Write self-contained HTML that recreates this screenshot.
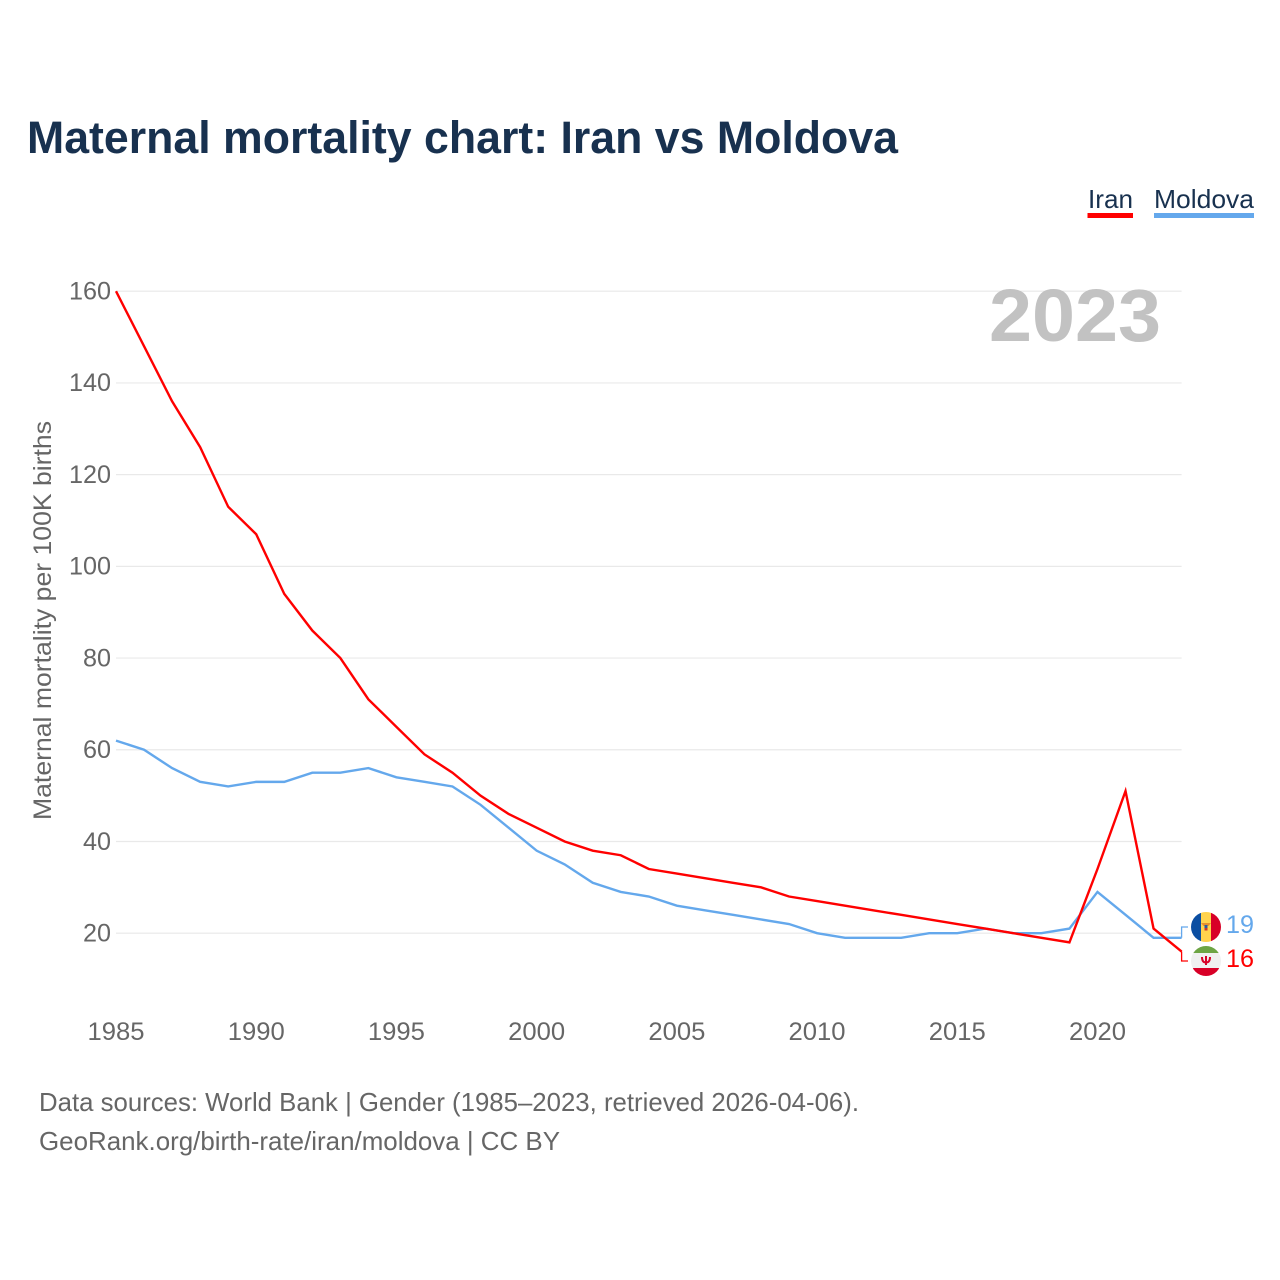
<!DOCTYPE html>
<html lang="en">
<head>
<meta charset="utf-8">
<title>Maternal mortality chart: Iran vs Moldova</title>
<style>
html,body{margin:0;padding:0;background:#fff;width:1280px;height:1280px;overflow:hidden}
svg{display:block;font-family:"Liberation Sans",sans-serif}
</style>
</head>
<body>
<svg id="chart" width="1280" height="1280" viewBox="0 0 1280 1280" xmlns="http://www.w3.org/2000/svg">
  <rect width="1280" height="1280" fill="#fff"/>
  <text x="27" y="153" font-size="45" font-weight="700" fill="#18314f" textLength="871" lengthAdjust="spacingAndGlyphs">Maternal mortality chart: Iran vs Moldova</text>

  <g>
    <text x="1088" y="208" font-size="26" fill="#18314f" textLength="45" lengthAdjust="spacingAndGlyphs">Iran</text>
    <rect x="1087.500" y="213" width="45.500" height="5" fill="#ff0000"/>
  </g>
  <g>
    <text x="1154" y="208" font-size="26" fill="#18314f" textLength="100" lengthAdjust="spacingAndGlyphs">Moldova</text>
    <rect x="1154" y="213" width="100" height="5" fill="#64a8ec"/>
  </g>

  <g id="grid"></g>
  <g id="y-axis"></g>
  <g id="x-axis"></g>

  <text transform="translate(51,820) rotate(-90)" font-size="25" fill="#666" textLength="399" lengthAdjust="spacingAndGlyphs">Maternal mortality per 100K births</text>
  <text x="1161" y="341" text-anchor="end" font-size="74" font-weight="700" fill="#c2c2c2" textLength="172" lengthAdjust="spacingAndGlyphs">2023</text>

  <g id="series"></g>

  <defs>
    <clipPath id="clip-md"><circle cx="1206" cy="927" r="15"/></clipPath>
    <clipPath id="clip-ir"><circle cx="1206" cy="961" r="15"/></clipPath>
  </defs>
  <g clip-path="url(#clip-md)">
    <rect x="1191" y="912" width="10" height="30" fill="#0b4ea2"/>
    <rect x="1201" y="912" width="10" height="30" fill="#ffd34d"/>
    <rect x="1211" y="912" width="10" height="30" fill="#d80027"/>
    <path d="M1201 923h10l-2.500 3h-5z" fill="#e8912d"/>
    <rect x="1204.500" y="925" width="3" height="4" fill="#2d5aa0"/>
    <rect x="1204.500" y="928" width="3" height="2.500" fill="#c8352f"/>
  </g>
  <g clip-path="url(#clip-ir)">
    <rect x="1191" y="946" width="30" height="7" fill="#6da544"/>
    <rect x="1191" y="953" width="30" height="15" fill="#f0f0f0"/>
    <rect x="1191" y="968" width="30" height="9" fill="#d80027"/>
    <path d="M1202 957q0 5.500 4 5.500t4-5.500M1206 956v9" fill="none" stroke="#d80027" stroke-width="2"/>
  </g>

  <text id="label-md" x="1226" y="933" font-size="25" fill="#64a8ec" textLength="28" lengthAdjust="spacingAndGlyphs"></text>
  <text id="label-ir" x="1226" y="967" font-size="25" fill="#ff0000" textLength="28" lengthAdjust="spacingAndGlyphs"></text>

  <text x="39" y="1111" font-size="26" fill="#666" textLength="820" lengthAdjust="spacingAndGlyphs">Data sources: World Bank | Gender (1985–2023, retrieved 2026-04-06).</text>
  <text x="39" y="1150" font-size="26" fill="#666" textLength="521" lengthAdjust="spacingAndGlyphs">GeoRank.org/birth-rate/iran/moldova | CC BY</text>
</svg>
<script>
const years = [1985,1986,1987,1988,1989,1990,1991,1992,1993,1994,1995,1996,1997,1998,1999,2000,2001,2002,2003,2004,2005,2006,2007,2008,2009,2010,2011,2012,2013,2014,2015,2016,2017,2018,2019,2020,2021,2022,2023];
const iranValues = [160,148,136,126,113,107,94,86,80,71,65,59,55,50,46,43,40,38,37,34,33,32,31,30,28,27,26,25,24,23,22,21,20,19,18,34,51,21,16];
const moldovaValues = [62,60,56,53,52,53,53,55,55,56,54,53,52,48,43,38,35,31,29,28,26,25,24,23,22,20,19,19,19,20,20,21,20,20,21,29,24,19,19];
const yTicks = [20,40,60,80,100,120,140,160];
const xTicks = [1985,1990,1995,2000,2005,2010,2015,2020];

const NS = 'http://www.w3.org/2000/svg';
const xScale = function (year) { return 116 + (year - 1985) * (1181.6 - 116) / (2023 - 1985); };
const yScale = function (value) { return 933.2 - (value - 20) * (933.2 - 291.2) / (160 - 20); };

const grid = document.getElementById('grid');
const yAxis = document.getElementById('y-axis');
const xAxis = document.getElementById('x-axis');
const seriesGroup = document.getElementById('series');

yTicks.forEach(function (tick) {
  const line = document.createElementNS(NS, 'line');
  
  
  line.setAttribute('x1', 116);
  line.setAttribute('x2', xScale(2023));
  line.setAttribute('y1', yScale(tick));
  line.setAttribute('y2', yScale(tick));
  line.setAttribute('stroke', '#e9e9e9');
  line.setAttribute('stroke-width', '1.2');
  grid.appendChild(line);

  const label = document.createElementNS(NS, 'text');
  
  
  label.setAttribute('x', 111);
  label.setAttribute('y', yScale(tick) + 8.3);
  label.setAttribute('text-anchor', 'end');
  label.setAttribute('font-size', '25');
  label.setAttribute('fill', '#666');
  label.setAttribute('textLength', String(tick).length === 3 ? 42 : 28);
  label.setAttribute('lengthAdjust', 'spacingAndGlyphs');
  label.textContent = tick;
  yAxis.appendChild(label);
});

xTicks.forEach(function (tick) {
  const label = document.createElementNS(NS, 'text');
  
  
  label.setAttribute('x', xScale(tick));
  label.setAttribute('y', 1040);
  label.setAttribute('text-anchor', 'middle');
  label.setAttribute('font-size', '25');
  label.setAttribute('fill', '#666');
  label.setAttribute('textLength', 57);
  label.setAttribute('lengthAdjust', 'spacingAndGlyphs');
  label.textContent = tick;
  xAxis.appendChild(label);
});

function pointsFor(values) {
  return values.map(function (value, i) {
    return xScale(years[i]).toFixed(2) + ',' + yScale(value).toFixed(2);
  }).join(' ');
}

const moldovaLine = document.createElementNS(NS, 'polyline');


moldovaLine.setAttribute('points', pointsFor(moldovaValues));
moldovaLine.setAttribute('fill', 'none');
moldovaLine.setAttribute('stroke', '#64a8ec');
moldovaLine.setAttribute('stroke-width', '2.4');
seriesGroup.appendChild(moldovaLine);

const iranLine = document.createElementNS(NS, 'polyline');


iranLine.setAttribute('points', pointsFor(iranValues));
iranLine.setAttribute('fill', 'none');
iranLine.setAttribute('stroke', '#ff0000');
iranLine.setAttribute('stroke-width', '2.4');
seriesGroup.appendChild(iranLine);

const moldovaEnd = moldovaValues[moldovaValues.length - 1];
const iranEnd = iranValues[iranValues.length - 1];
const endX = xScale(2023);

const moldovaConnector = document.createElementNS(NS, 'polyline');


moldovaConnector.setAttribute('points', endX + ',' + yScale(moldovaEnd) + ' ' + endX + ',927 1188,927');
moldovaConnector.setAttribute('fill', 'none');
moldovaConnector.setAttribute('stroke', '#64a8ec');
moldovaConnector.setAttribute('stroke-width', '1.3');
seriesGroup.appendChild(moldovaConnector);

const iranConnector = document.createElementNS(NS, 'polyline');


iranConnector.setAttribute('points', endX + ',' + yScale(iranEnd) + ' ' + endX + ',961 1188,961');
iranConnector.setAttribute('fill', 'none');
iranConnector.setAttribute('stroke', '#ff0000');
iranConnector.setAttribute('stroke-width', '1.3');
seriesGroup.appendChild(iranConnector);

document.getElementById('label-md').textContent = moldovaEnd;
document.getElementById('label-ir').textContent = iranEnd;
</script>
</body>
</html>
